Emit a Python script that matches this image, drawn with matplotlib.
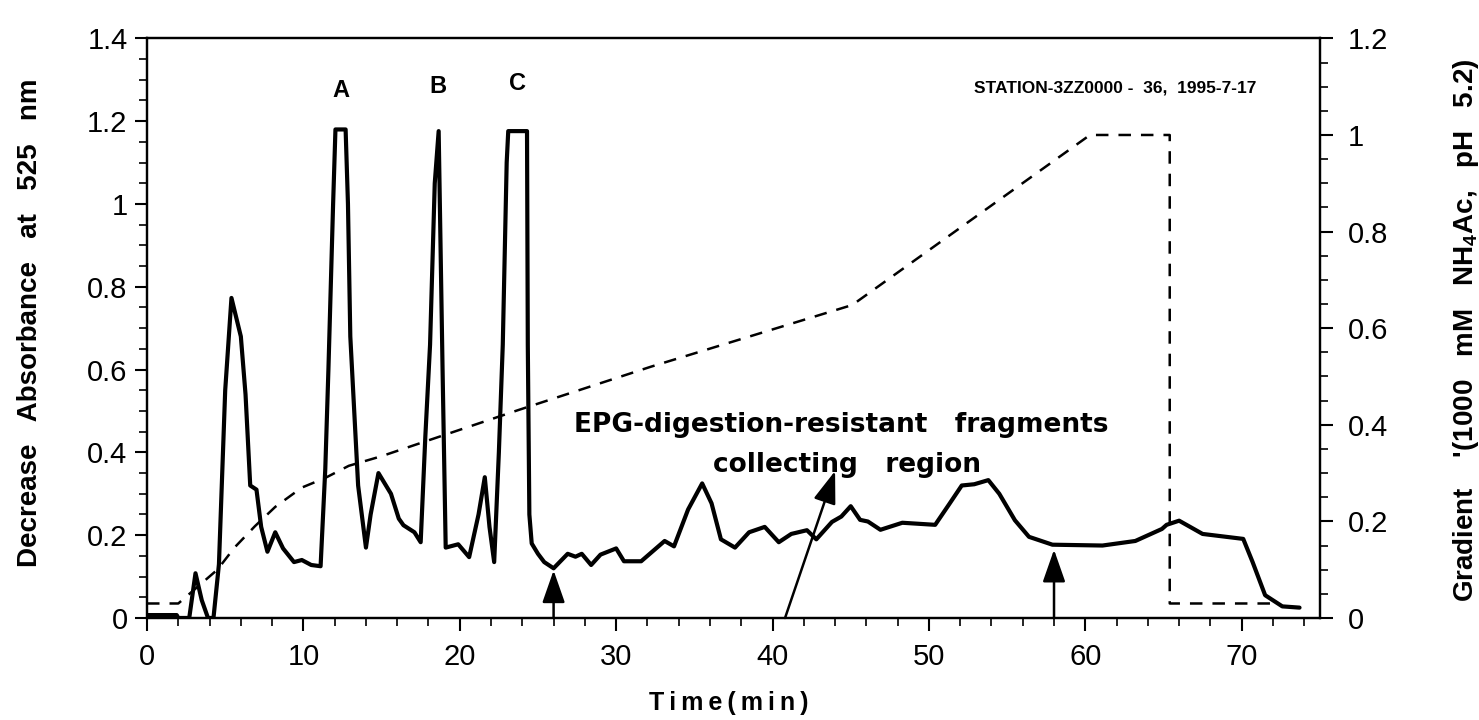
import matplotlib
matplotlib.use('Agg')
import matplotlib.pyplot as plt
from matplotlib.ticker import MultipleLocator, FuncFormatter

plt.rcParams['font.family'] = ['Liberation Sans', 'DejaVu Sans']
plt.rcParams['mathtext.fontset'] = 'custom'
plt.rcParams['mathtext.rm'] = 'Liberation Sans'
plt.rcParams['mathtext.bf'] = 'Liberation Sans:bold'

# absorbance trace (left axis)
time = [0, 1.9, 2.0, 2.7, 3.1, 3.5, 3.9, 4.25, 4.6, 5.0, 5.4, 6.0, 6.3, 6.6, 7.0,
        7.3, 7.7, 8.2, 8.7, 9.4, 9.9, 10.5, 11.1, 11.4, 11.6, 11.9, 12.05, 12.7,
        12.85, 13.0, 13.5, 14.0, 14.3, 14.8, 15.6, 16.1, 16.4, 17.1, 17.5, 17.8,
        18.1, 18.4, 18.65, 18.9, 19.1, 19.9, 20.6, 21.2, 21.6, 21.9, 22.2, 22.5,
        22.75, 23.0, 23.1, 24.3, 24.35, 24.45, 24.6, 25.0, 25.4, 26.0, 26.9, 27.4,
        27.8, 28.4, 29.0, 30.0, 30.5, 31.6, 33.1, 33.7, 34.6, 35.5, 36.1, 36.7,
        37.6, 38.5, 39.5, 40.4, 41.2, 42.2, 42.8, 43.8, 44.4, 45.0, 45.6, 46.1,
        46.9, 48.3, 50.4, 51.3, 52.1, 52.9, 53.8, 54.5, 55.5, 56.4, 57.9, 61.1,
        63.2, 64.9, 65.2, 66.0, 67.5, 70.1, 70.7, 71.5, 72.6, 73.7]
absorbance = [0.007, 0.007, 0.0, 0.0, 0.108, 0.043, 0.0, 0.0, 0.13, 0.55, 0.773,
              0.68, 0.54, 0.32, 0.31, 0.22, 0.16, 0.207, 0.168, 0.135, 0.14, 0.128,
              0.125, 0.36, 0.6, 1.0, 1.18, 1.18, 1.0, 0.68, 0.32, 0.17, 0.25, 0.35,
              0.30, 0.24, 0.224, 0.207, 0.183, 0.44, 0.66, 1.05, 1.176, 0.6, 0.17,
              0.178, 0.147, 0.25, 0.34, 0.22, 0.135, 0.4, 0.66, 1.1, 1.176, 1.176,
              0.66, 0.25, 0.18, 0.155, 0.135, 0.12, 0.155, 0.148, 0.155, 0.128,
              0.153, 0.168, 0.137, 0.137, 0.186, 0.173, 0.262, 0.325, 0.277, 0.19,
              0.17, 0.207, 0.22, 0.183, 0.203, 0.212, 0.19, 0.232, 0.245, 0.27,
              0.237, 0.233, 0.213, 0.23, 0.225, 0.275, 0.32, 0.323, 0.333, 0.30,
              0.236, 0.196, 0.177, 0.175, 0.186, 0.215, 0.225, 0.235, 0.203, 0.191,
              0.135, 0.055, 0.028, 0.025]

# salt gradient (right axis)
grad_time = [0, 2.0, 4.5, 5.6, 6.9, 8.2, 9.9, 11.4, 12.9, 15.0, 23.7, 32.2, 45.1,
             60.3, 65.4, 65.4, 72.0]
grad_conc = [0.03, 0.03, 0.10, 0.146, 0.19, 0.23, 0.27, 0.29, 0.315, 0.335, 0.43,
             0.52, 0.648, 1.0, 1.0, 0.03, 0.03]

peak_names = ['A', 'B', 'C']
peak_x = [12.4, 18.6, 23.7]
peak_y = [1.258, 1.268, 1.275]

arrow_tails = [(26.0, 0.0), (40.8, 0.0), (58.0, 0.0)]
arrow_tips = [(26.0, 0.115), (44.0, 0.355), (58.0, 0.165)]

fig = plt.figure(figsize=(14.79, 7.2), dpi=100)
ax = fig.add_axes([0.0994, 0.1417, 0.793, 0.805])
ax2 = ax.twinx()

ax.plot(time, absorbance, color='black', lw=3, solid_joinstyle='round',
        solid_capstyle='round')
ax2.plot(grad_time, grad_conc, color='black', lw=1.8, linestyle=(0, (5, 4)))

ax.set_xlim(0, 75)
ax.set_ylim(0, 1.4)
ax2.set_ylim(0, 1.2)

fmt = FuncFormatter(lambda v, p: '%g' % round(v, 2))
ax.xaxis.set_major_locator(MultipleLocator(10))
ax.xaxis.set_minor_locator(MultipleLocator(2))
ax.yaxis.set_major_locator(MultipleLocator(0.2))
ax.yaxis.set_minor_locator(MultipleLocator(0.05))
ax.yaxis.set_major_formatter(fmt)
ax2.yaxis.set_major_locator(MultipleLocator(0.2))
ax2.yaxis.set_minor_locator(MultipleLocator(0.05))
ax2.yaxis.set_major_formatter(fmt)

for a in (ax, ax2):
    a.tick_params(which='major', direction='out', length=9, width=1.5,
                  labelsize=21, pad=5)
    a.tick_params(which='minor', direction='out', length=6, width=1.2)
    for s in a.spines.values():
        s.set_linewidth(1.6)
ax.tick_params(axis='x', which='major', pad=9)
ax2.tick_params(axis='y', which='major', pad=11)

ax.set_xlabel('T\u2009i\u2009m\u2009e\u2009(\u2009m\u2009i\u2009n\u2009)', fontsize=18,
              fontweight='bold')
ax.xaxis.set_label_coords(0.496, -0.147)
ax.xaxis.label.set_va('center')
ax.set_ylabel('Decrease   Absorbance   at   525   nm', fontsize=20,
              fontweight='bold')
ax.yaxis.set_label_coords(-0.0997, 0.509)
ax.yaxis.label.set_va('center')
ax2.set_ylabel("Gradient    '(1000   mM   NH$_\\mathbf{4}$Ac,   pH   5.2)",
               fontsize=20, fontweight='bold')
ax2.yaxis.set_label_coords(1.1245, 0.497)
ax2.yaxis.label.set_va('center')

for name, x, y in zip(peak_names, peak_x, peak_y):
    ax.text(x, y, name, ha='center', va='baseline', fontsize=17, fontweight='bold')

ax.text(52.9, 1.28, 'STATION-3ZZ0000 -  36,  1995-7-17', fontsize=12.5,
        fontweight='bold', ha='left', va='center')
ax.text(27.3, 0.449, 'EPG-digestion-resistant   fragments', fontsize=19,
        fontweight='bold', family='DejaVu Sans', ha='left', va='baseline')
ax.text(36.2, 0.353, 'collecting   region', fontsize=19, fontweight='bold',
        family='DejaVu Sans', ha='left', va='baseline')

for tail, tip in zip(arrow_tails, arrow_tips):
    ax.annotate('', xy=tip, xytext=tail,
                arrowprops=dict(arrowstyle='-|>,head_length=1.0,head_width=0.35',
                                mutation_scale=20, color='black', lw=1.8,
                                shrinkA=0, shrinkB=0))

fig.savefig('out.png', dpi=100)
